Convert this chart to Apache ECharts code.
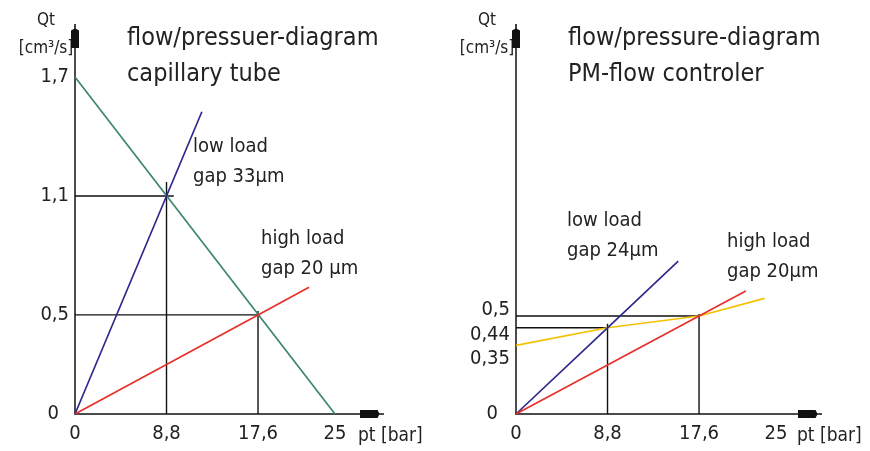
<!DOCTYPE html>
<html>
<head>
<meta charset="utf-8">
<script src="https://cdn.jsdelivr.net/npm/echarts@6/dist/echarts.min.js"></script>
<style>
  html, body { margin: 0; padding: 0; background: #fff; }
  #chart { width: 870px; height: 451px; }
</style>
</head>
<body>
<div id="chart"></div>
<script>
// ---- data ----
// left: capillary tube
var capXTicks = [0, 8.8, 17.6, 25];
var capYTicks = [0, 0.5, 1.1, 1.7];
var capGreen = [[0, 1.7], [25, 0]];            // capillary characteristic
var capLow = [[0, 0], [8.8, 1.1], [12.2, 1.525]];  // low load gap 33um
var capHigh = [[0, 0], [17.6, 0.5], [22.5, 0.64]]; // high load gap 20um
var capGuide1 = [[0, 1.1], [9.5, 1.1]];
var capGuide2 = [[8.8, 0], [8.8, 1.17]];
var capGuide3 = [[0, 0.5], [17.8, 0.5]];
var capGuide4 = [[17.6, 0], [17.6, 0.52]];

// right: PM flow controller
var pmXTicks = [0, 8.8, 17.6, 25];
var pmYTicks = [0, 0.35, 0.44, 0.5];
var pmLow = [[0, 0], [8.8, 0.44], [15.6, 0.78]];       // low load gap 24um
var pmHigh = [[0, 0], [17.6, 0.5], [22.1, 0.628]];     // high load gap 20um
var pmCtrl = [[0, 0.35], [8.8, 0.44], [17.6, 0.5], [23.9, 0.59]]; // controller
var pmGuide1 = [[0, 0.5], [17.6, 0.5]];
var pmGuide2 = [[17.6, 0], [17.6, 0.51]];
var pmGuide3 = [[0, 0.44], [8.8, 0.44]];
var pmGuide4 = [[8.8, 0], [8.8, 0.46]];

var FONT = '"DejaVu Sans Condensed", "Liberation Sans", Arial, sans-serif';
var arrowPath = 'path://M4,0 L6,0 L6,6 L10,8 L10,30 L0,30 L0,8 L4,6 Z';

function fmt(v) { return String(v).replace('.', ','); }

function axisX(idx, ticks, max) {
  return {
    type: 'value', gridIndex: idx, min: 0, max: max,
    axisLine: { show: true, onZero: false, lineStyle: { color: '#111', width: 1.5 }, symbol: ['none', arrowPath], symbolSize: [8, 26] },
    axisTick: { show: false },
    splitLine: { show: false },
    axisLabel: { customValues: ticks, formatter: fmt, color: '#222', fontFamily: FONT, fontSize: 20, margin: 10, showMaxLabel: true }
  };
}

function axisY(idx, ticks, max, labelFmt, rich) {
  return {
    type: 'value', gridIndex: idx, min: 0, max: max,
    axisLine: { show: true, onZero: false, lineStyle: { color: '#111', width: 1.5 }, symbol: ['none', arrowPath], symbolSize: [8, 28] },
    axisTick: { show: false },
    splitLine: { show: false },
    axisLabel: { customValues: ticks, formatter: labelFmt, rich: rich, color: '#222', fontFamily: FONT, fontSize: 20, margin: 6 }
  };
}

function line(name, xi, data, color, w) {
  return {
    name: name, type: 'line', xAxisIndex: xi, yAxisIndex: xi, data: data,
    showSymbol: false, silent: true, animation: false,
    lineStyle: { color: color, width: w || 1.7 }
  };
}

// zero label sits a bit further left in the drawing
var capRich = {
  z: { fontFamily: FONT, fontSize: 20, color: '#222', padding: [0, 10, 0, 0] },
  d: { fontFamily: FONT, fontSize: 20, color: '#222' }
};
function capYFmt(v) { return v === 0 ? '{z|0}' : '{d|' + fmt(v) + '}'; }

// right axis labels are spread apart like in the drawing
var pmRich = {
  a: { fontFamily: FONT, fontSize: 20, color: '#222', padding: [0, 0, 12, 0] },
  b: { fontFamily: FONT, fontSize: 20, color: '#222', padding: [14, 0, 0, 0] },
  c: { fontFamily: FONT, fontSize: 20, color: '#222', padding: [26, 0, 0, 0] },
  z: { fontFamily: FONT, fontSize: 20, color: '#222', padding: [0, 12, 0, 0] }
};
function pmYFmt(v) {
  if (v === 0.5) return '{a|' + fmt(v) + '}';
  if (v === 0.44) return '{b|' + fmt(v) + '}';
  if (v === 0.35) return '{c|' + fmt(v) + '}';
  return '{z|' + fmt(v) + '}';
}

function txt(x, y, s, size, lh) {
  return { type: 'text', x: x, y: y, style: { text: s, fontFamily: FONT, fontSize: size, fill: '#222', lineHeight: lh } };
}

var option = {
  backgroundColor: '#fff',
  animation: false,
  grid: [
    { left: 75, top: 36, width: 297, height: 378 },
    { left: 516, top: 36, width: 294, height: 378 }
  ],
  xAxis: [axisX(0, capXTicks, 28.56), axisX(1, pmXTicks, 28.27)],
  yAxis: [
    axisY(0, capYTicks, 1.907, capYFmt, capRich),
    axisY(1, pmYTicks, 1.929, pmYFmt, pmRich)
  ],
  series: [
    line('guide', 0, capGuide1, '#111', 1.4),
    line('guide', 0, capGuide2, '#111', 1.4),
    line('guide', 0, capGuide3, '#111', 1.4),
    line('guide', 0, capGuide4, '#111', 1.4),
    line('capillary', 0, capGreen, '#3a8770'),
    line('low load', 0, capLow, '#2e2a8c'),
    line('high load', 0, capHigh, '#e8302a'),

    line('guide', 1, pmGuide1, '#111', 1.4),
    line('guide', 1, pmGuide2, '#111', 1.4),
    line('guide', 1, pmGuide3, '#111', 1.4),
    line('guide', 1, pmGuide4, '#111', 1.4),
    line('controller', 1, pmCtrl, '#f5c000'),
    line('low load', 1, pmLow, '#2e2a8c'),
    line('high load', 1, pmHigh, '#e8302a')
  ],
  graphic: [
    { type: 'text', x: 46, y: 7, style: { text: 'Qt\n[cm³/s]', align: 'center', fontFamily: FONT, fontSize: 17, lineHeight: 28, fill: '#222' } },
    { type: 'text', x: 487, y: 7, style: { text: 'Qt\n[cm³/s]', align: 'center', fontFamily: FONT, fontSize: 17, lineHeight: 28, fill: '#222' } },
    txt(127, 20, 'flow/pressuer-diagram\ncapillary tube', 25, 36),
    txt(568, 20, 'flow/pressure-diagram\nPM-flow controler', 25, 36),
    txt(193, 132, 'low load\ngap 33µm', 20, 30),
    txt(261, 224, 'high load\ngap 20 µm', 20, 30),
    txt(567, 206, 'low load\ngap 24µm', 20, 30),
    txt(727, 227, 'high load\ngap 20µm', 20, 30),
    txt(358, 423, 'pt [bar]', 19, 26),
    txt(797, 423, 'pt [bar]', 19, 26)
  ]
};

var chart = echarts.init(document.getElementById('chart'));
chart.setOption(option);
</script>
</body>
</html>
